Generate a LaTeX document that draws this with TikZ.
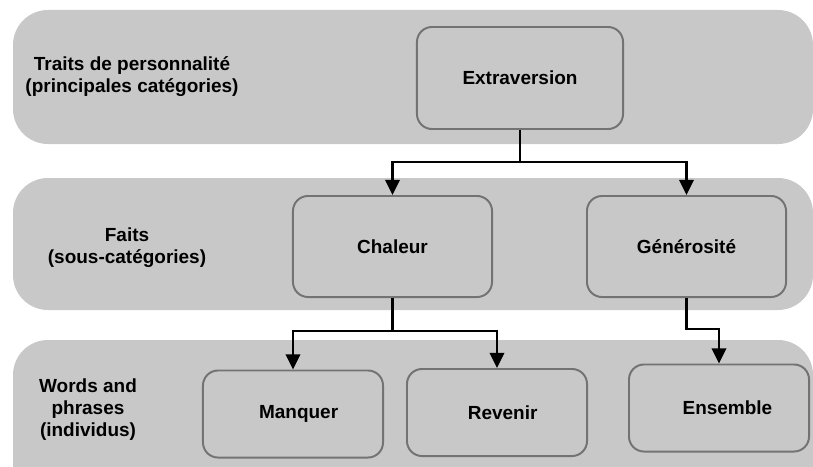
\documentclass[tikz,border=0pt]{standalone}
\usepackage{fontspec}
\setmainfont{Liberation Sans}
\usetikzlibrary{arrows.meta}
\definecolor{bandgray}{RGB}{200,200,200}
\definecolor{edgegray}{RGB}{115,115,115}

\begin{document}
\begin{tikzpicture}[x=0.025cm, y=-0.025cm,
        band/.style={fill=bandgray, rounded corners=0.875cm},
        side/.style={align=center, font=\bfseries\fontsize{13.5}{15.6}\selectfont},
        box/.style={draw=edgegray, line width=1.4pt, fill=bandgray, rounded corners=0.375cm,
                    font=\bfseries\fontsize{13.5}{15.6}\selectfont},
        topbox/.style={box, minimum width=4.975cm, minimum height=2.525cm},
        lowbox/.style={box, minimum width=4.5cm, minimum height=2.175cm},
        link/.style={line width=1.6pt, -{Triangle[width=3.6mm,length=3.8mm]}}]
    \useasboundingbox (0,0) rectangle (813,466);
    \clip (0,0) rectangle (813,466);
    % bands
    \fill[band] (13,10) rectangle (813,144);
    \fill[band] (13,178) rectangle (813,310);
    \fill[band] (13,340) rectangle (813,500);
    % level labels
    \node[side] (traits) at (132,77) {Traits de personnalité\\(principales catégories)};
    \node[side] (faits) at (127,248) {Faits\\(sous-catégories)};
    \node[side] (words) at (88,410) {Words and\\phrases\\(individus)};
    % boxes
    \node[box, minimum width=5.15cm, minimum height=2.55cm] (extra) at (520,78) {Extraversion};
    \node[topbox] (chaleur) at (392.5,246.5) {Chaleur};
    \node[topbox] (genero) at (686.5,246.5) {Générosité};
    \node[lowbox] (manquer) at (293,414) {\hspace*{8pt}Manquer};
    \node[lowbox] (revenir) at (497,412.5) {\hspace*{8pt}Revenir};
    \node[lowbox] (ensemble) at (719,408) {\hspace*{12pt}Ensemble};
    % links
    \draw[link] (extra.south) -- ++(0,32) -| (chaleur.north);
    \draw[link] (extra.south) -- ++(0,32) -| (genero.north);
    \draw[link] (chaleur.south) -- ++(0,33) -| (manquer.north);
    \draw[link] (chaleur.south) -- ++(0,33) -| (revenir.north);
    \draw[link] (genero.south) -- ++(0,31) -| (ensemble.north);
\end{tikzpicture}
\end{document}
